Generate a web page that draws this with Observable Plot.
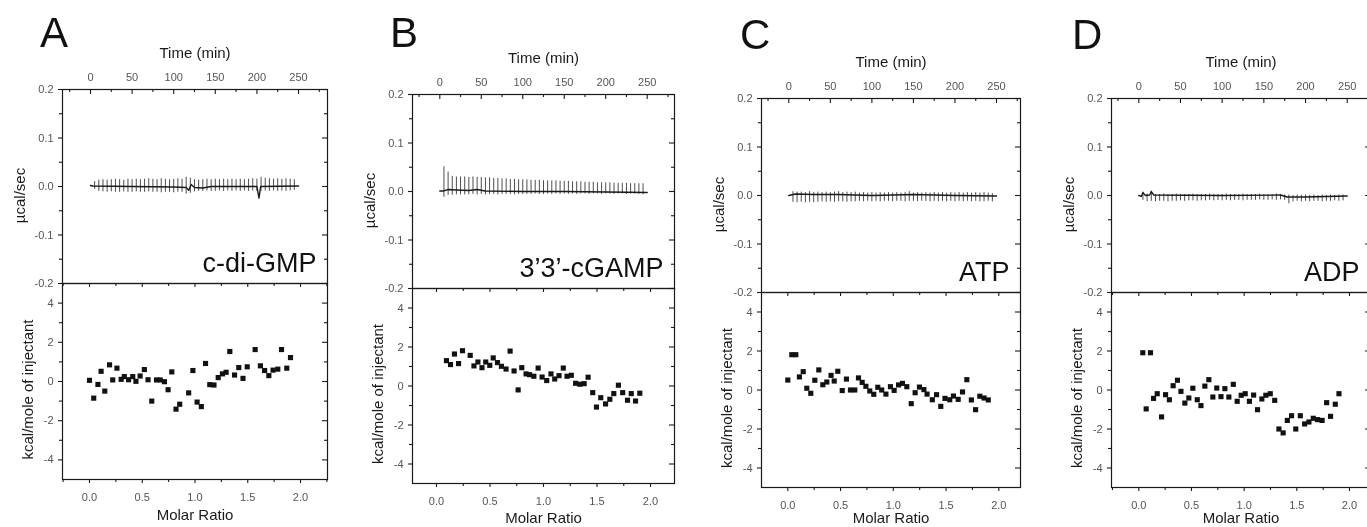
<!DOCTYPE html>
<html>
<head>
<meta charset="utf-8">
<script src="https://cdn.jsdelivr.net/npm/d3@7"></script>
<script src="https://cdn.jsdelivr.net/npm/@observablehq/plot@0.6"></script>
<style>
  html, body { margin: 0; padding: 0; background: #fff; }
  #fig { position: relative; width: 1367px; height: 527px; overflow: hidden; background: #fff;
         font-family: "Liberation Sans", Arial, Helvetica, sans-serif; filter: grayscale(1); }
  #fig svg { position: absolute; background: none; overflow: visible; }
  .letter { position: absolute; font-size: 42px; line-height: 42px; color: #111; }
</style>
</head>
<body>
<div id="fig"></div>
<script>
// ---------------- DATA ----------------
const panelLetters = ["A", "B", "C", "D"];
const compounds = ["c-di-GMP", "3\u20193\u2019-cGAMP", "ATP", "ADP"];

// axis tick values
const timeTicks = [0, 50, 100, 150, 200, 250];
const timeMinor = [-25, 25, 75, 125, 175, 225, 275];
const powerTicks = [-0.2, -0.1, 0, 0.1, 0.2];
const powerMinor = [-0.15, -0.05, 0.05, 0.15];
const molarTicks = [0, 0.5, 1, 1.5, 2];
const molarMinor = [-0.25, 0.25, 0.75, 1.25, 1.75, 2.25];
const enthalpyTicks = [-4, -2, 0, 2, 4];
const enthalpyMinor = [-3, -1, 1, 3];

// injection times (min), shared protocol
const injectionTimes = [5, 10, 15, 20, 25, 30, 35, 40, 45, 50, 55, 60, 65, 70, 75, 80, 85, 90, 95, 100,
  105, 110, 115, 120, 125, 130, 135, 140, 145, 150, 155, 160, 165, 170, 175, 180, 185, 190, 195, 200,
  205, 210, 215, 220, 225, 230, 235, 240, 245];

// raw thermogram: spike tops / bottoms (µcal/sec) and baseline
const spikeHiA = [0.010,0.013,0.014,0.013,0.014,0.015,0.014,0.013,0.015,0.014,
  0.015,0.014,0.015,0.016,0.015,0.014,0.016,0.015,0.014,0.015,
  0.016,0.015,0.019,0.017,0.014,0.013,0.014,0.015,0.014,0.015,
  0.014,0.015,0.014,0.015,0.014,0.015,0.014,0.015,0.016,0.015,
  0.019,0.017,0.016,0.015,0.016,0.015,0.016,0.015,0.014];
const spikeLoA = [-0.006,-0.010,-0.011,-0.012,-0.011,-0.012,-0.012,-0.011,-0.012,-0.012,
  -0.011,-0.012,-0.012,-0.011,-0.012,-0.012,-0.013,-0.012,-0.012,-0.013,
  -0.012,-0.012,-0.016,-0.014,-0.011,-0.010,-0.010,-0.009,-0.010,-0.010,
  -0.009,-0.010,-0.009,-0.010,-0.009,-0.010,-0.009,-0.010,-0.009,-0.010,
  -0.010,-0.009,-0.010,-0.009,-0.010,-0.009,-0.010,-0.009,-0.008];
const baselineA = [[0,0.002],[3,0.001],[50,0],[100,-0.001],[115,-0.002],[118,-0.008],[121,0.004],
  [125,-0.002],[135,-0.003],[145,0],[200,0],[202.5,-0.024],[204.5,0],[250,0.001]];

const spikeHiB = [0.051,0.040,0.031,0.030,0.030,0.030,0.029,0.030,0.029,0.029,
  0.028,0.028,0.027,0.027,0.026,0.026,0.025,0.025,0.024,0.024,
  0.024,0.023,0.023,0.023,0.022,0.022,0.022,0.022,0.021,0.021,
  0.021,0.020,0.020,0.020,0.019,0.019,0.019,0.018,0.018,0.018,
  0.018,0.017,0.017,0.017,0.017,0.016,0.016,0.016,0.016];
const spikeLoB = [-0.012,-0.008,-0.008,-0.007,-0.007,-0.007,-0.007,-0.006,-0.007,-0.006,
  -0.007,-0.006,-0.006,-0.007,-0.006,-0.006,-0.006,-0.007,-0.006,-0.006,
  -0.006,-0.006,-0.005,-0.006,-0.006,-0.005,-0.006,-0.005,-0.006,-0.005,
  -0.006,-0.005,-0.006,-0.005,-0.005,-0.006,-0.005,-0.005,-0.006,-0.005,
  -0.005,-0.006,-0.005,-0.005,-0.006,-0.005,-0.005,-0.006,-0.007];
const baselineB = [[0,0.001],[4,0.001],[10,0.004],[20,0.003],[35,0.002],[45,0.004],[55,0.001],
  [100,0],[150,0],[200,-0.001],[250,-0.002]];

const spikeHiC = [0.008,0.007,0.007,0.006,0.008,0.006,0.007,0.006,0.007,0.006,
  0.007,0.008,0.006,0.007,0.006,0.007,0.005,0.006,0.005,0.006,
  0.005,0.006,0.005,0.006,0.005,0.006,0.005,0.006,0.008,0.005,
  0.006,0.005,0.006,0.005,0.006,0.005,0.006,0.005,0.006,0.005,
  0.006,0.005,0.006,0.005,0.006,0.005,0.006,0.005,0.004];
const spikeLoC = [-0.014,-0.015,-0.014,-0.015,-0.014,-0.015,-0.014,-0.013,-0.014,-0.013,
  -0.014,-0.013,-0.013,-0.014,-0.013,-0.013,-0.012,-0.013,-0.012,-0.013,
  -0.012,-0.013,-0.012,-0.012,-0.013,-0.012,-0.012,-0.013,-0.012,-0.012,
  -0.013,-0.012,-0.012,-0.013,-0.012,-0.013,-0.012,-0.013,-0.012,-0.013,
  -0.012,-0.013,-0.012,-0.013,-0.012,-0.013,-0.013,-0.012,-0.013];
const baselineC = [[0,0],[8,0.003],[30,0.002],[60,0.002],[100,0],[150,0.002],[200,0],[250,-0.001]];

const spikeHiD = [0.007,0.003,0.009,0.002,0.002,0.003,0.002,0.002,0.003,0.002,
  0.002,0.002,0.003,0.002,0.002,0.002,0.003,0.002,0.002,0.002,
  0.003,0.002,0.002,0.002,0.003,0.002,0.002,0.002,0.003,0.002,
  0.002,0.002,0.003,0.002,0.001,0.001,0.000,0.001,0.000,0.001,
  0.000,0.001,0.000,0.001,0.000,0.001,0.000,0.001,0.001];
const spikeLoD = [-0.010,-0.013,-0.012,-0.013,-0.012,-0.012,-0.013,-0.012,-0.012,-0.011,
  -0.012,-0.011,-0.011,-0.012,-0.011,-0.011,-0.010,-0.011,-0.010,-0.011,
  -0.010,-0.011,-0.010,-0.010,-0.011,-0.010,-0.010,-0.010,-0.009,-0.010,
  -0.010,-0.009,-0.010,-0.009,-0.010,-0.017,-0.013,-0.012,-0.013,-0.012,
  -0.013,-0.012,-0.012,-0.013,-0.012,-0.012,-0.011,-0.012,-0.011];
const baselineD = [[0,0],[3,-0.002],[5,0.006],[8,0],[13,0.001],[15,0.008],[18,0.001],[100,0],
  [170,0.001],[178,-0.003],[200,-0.003],[250,-0.001]];

// integrated heats: molar ratio and kcal/mole of injectant
const molarA = [0.00,0.04,0.08,0.11,0.145,0.19,0.22,0.26,0.30,0.33,0.37,0.41,0.44,0.48,0.52,0.555,0.59,0.635,
  0.67,0.71,0.745,0.78,0.82,0.855,0.94,0.98,1.02,1.06,1.10,1.14,1.18,1.22,1.26,1.295,1.33,1.375,1.415,1.455,
  1.495,1.57,1.62,1.66,1.70,1.74,1.785,1.82,1.87,1.905];
const heatA = [0.06,-0.85,-0.15,0.52,-0.49,0.85,0.08,0.68,0.11,0.25,0.09,0.25,0.01,0.28,0.61,0.09,-1.0,0.08,
  0.08,-0.01,-0.42,0.49,-1.41,-1.16,-0.58,0.56,-1.05,-1.28,0.92,-0.16,-0.18,0.2,0.39,0.47,1.53,0.33,0.71,0.16,
  0.75,1.63,0.8,0.56,0.3,0.58,0.63,1.63,0.68,1.22];

const molarB = [0.093,0.131,0.168,0.206,0.243,0.315,0.35,0.387,0.425,0.46,0.498,0.53,0.57,0.607,0.65,0.688,
  0.725,0.763,0.797,0.837,0.87,0.91,0.95,0.987,1.03,1.07,1.105,1.145,1.185,1.22,1.26,1.30,1.34,1.38,1.417,
  1.46,1.495,1.535,1.58,1.62,1.657,1.70,1.74,1.785,1.82,1.86,1.90];
const heatB = [1.30,1.10,1.64,1.15,1.81,1.57,1.03,1.23,0.94,1.23,1.06,1.44,1.2,1.01,0.87,1.79,0.77,-0.2,
  0.94,0.62,0.58,0.5,0.92,0.46,0.28,0.62,0.36,0.53,0.92,0.5,0.55,0.14,0.09,0.12,0.45,-0.34,-1.08,-0.6,
  -0.92,-0.68,-0.39,0.04,-0.34,-0.73,-0.39,-0.77,-0.37];

const molarC = [0.0,0.038,0.076,0.11,0.146,0.18,0.218,0.256,0.294,0.332,0.37,0.41,0.44,0.474,0.516,0.556,
  0.594,0.635,0.67,0.705,0.74,0.777,0.815,0.853,0.89,0.93,0.973,1.008,1.05,1.087,1.128,1.17,1.207,1.248,
  1.29,1.32,1.37,1.41,1.45,1.49,1.535,1.57,1.615,1.656,1.697,1.74,1.78,1.82,1.86,1.90];
const heatC = [0.51,1.81,1.81,0.67,0.94,0.09,-0.17,0.50,1.03,0.27,0.41,0.75,0.46,0.96,-0.03,0.56,0.0,0.0,
  0.62,0.39,0.19,-0.05,-0.22,0.14,0.0,-0.21,0.17,-0.02,0.26,0.34,0.17,-0.7,-0.14,0.15,0.02,-0.21,-0.5,
  -0.24,-0.84,-0.43,-0.5,-0.31,-0.48,-0.1,0.53,-0.51,-1.01,-0.32,-0.41,-0.51];

const molarD = [0.038,0.07,0.111,0.14,0.175,0.216,0.254,0.29,0.326,0.367,0.40,0.437,0.475,0.513,0.555,0.59,
  0.627,0.665,0.703,0.74,0.78,0.817,0.855,0.897,0.934,0.972,1.01,1.05,1.09,1.127,1.168,1.206,1.248,1.29,
  1.33,1.37,1.41,1.45,1.49,1.533,1.574,1.615,1.656,1.697,1.74,1.783,1.82,1.865,1.90];
const heatD = [1.91,-0.97,1.91,-0.43,-0.19,-1.38,-0.24,-0.5,0.22,0.5,-0.07,-0.67,-0.41,0.09,-0.5,-0.8,0.2,
  0.53,-0.36,0.1,-0.34,0.07,-0.36,0.29,-0.58,-0.27,-0.19,-0.58,-0.26,-1.01,-0.46,-0.27,-0.19,-0.53,-2.0,
  -2.2,-1.56,-1.32,-2.0,-1.32,-1.74,-1.64,-1.45,-1.52,-1.56,-0.65,-1.35,-0.73,-0.19];

const series = [
  {hi: spikeHiA, lo: spikeLoA, base: baselineA, molar: molarA, heat: heatA},
  {hi: spikeHiB, lo: spikeLoB, base: baselineB, molar: molarB, heat: heatB},
  {hi: spikeHiC, lo: spikeLoC, base: baselineC, molar: molarC, heat: heatC},
  {hi: spikeHiD, lo: spikeLoD, base: baselineD, molar: molarD, heat: heatD}
];

// ---------------- LAYOUT (pixel geometry of each panel) ----------------
const layout = [
  {L: 62,   R: 327,  T: 89, mid: 283, B: 479, t0: 90,     t250: 298,    m0: 89,     m2: 300,  letterX: 40,   letterBase: 48},
  {L: 412,  R: 674,  T: 94, mid: 288, B: 483, t0: 439.3,  t250: 646.7,  m0: 436,    m2: 650,  letterX: 390,  letterBase: 48},
  {L: 761,  R: 1020, T: 98, mid: 292, B: 487, t0: 788.3,  t250: 996,    m0: 787.3,  m2: 998.3, letterX: 740, letterBase: 50},
  {L: 1111, R: 1370, T: 98, mid: 292, B: 487, t0: 1138.3, t250: 1346.7, m0: 1138.3, m2: 1349, letterX: 1072, letterBase: 50}
];

const FONT = '"Liberation Sans", Arial, Helvetica, sans-serif';
const INK = "#1a1a1a";
const GREY = "#555";
const PAGE_H = 527;
const fig = document.getElementById("fig");
const inDom = (arr, dom) => arr.filter(d => d >= dom[0] - 1e-9 && d <= dom[1] + 1e-9);

layout.forEach((p, i) => {
  const s = series[i];
  const W = p.R - p.L;
  const Ht = p.mid - p.T;
  const Hb = p.B - p.mid;
  const kT = (p.t250 - p.t0) / 250;
  const tD = [(p.L - p.t0) / kT, (p.R - p.t0) / kT];
  const kM = (p.m2 - p.m0) / 2;
  const mD = [(p.L - p.m0) / kM, (p.R - p.m0) / kM];
  const ML = 70, MR = 6;
  const ratioDy = Math.min(36, PAGE_H - 9 - p.B);

  const spikes = injectionTimes.map((t, j) => ({t, hi: s.hi[j], lo: s.lo[j]}));
  const points = s.molar.map((m, j) => ({m, v: s.heat[j]}));

  // ---- top: raw thermogram ----
  const MTt = 50, MBt = 1;
  const top = Plot.plot({
    width: ML + W + MR, height: MTt + Ht + MBt,
    marginLeft: ML, marginRight: MR, marginTop: MTt, marginBottom: MBt,
    x: {domain: tD, label: null},
    y: {domain: [-0.2, 0.2], label: null},
    style: {background: "none", fontFamily: FONT, fontSize: "11px", overflow: "visible"},
    marks: [
      Plot.ruleX(spikes, {x: "t", y1: "lo", y2: "hi", stroke: "#3a3a3a", strokeWidth: 0.9}),
      Plot.line(s.base, {x: d => d[0], y: d => d[1], stroke: INK, strokeWidth: 1.4}),
      Plot.frame({stroke: INK, strokeWidth: 1.2}),
      Plot.tickX(inDom(timeTicks, tD), {x: d => d, stroke: INK, strokeWidth: 1.1, insetBottom: Ht - 5}),
      Plot.tickX(inDom(timeMinor, tD), {x: d => d, stroke: INK, strokeWidth: 1.1, insetBottom: Ht - 3}),
      Plot.tickY(powerTicks, {y: d => d, stroke: INK, strokeWidth: 1.1, insetLeft: -4, insetRight: W}),
      Plot.tickY(powerMinor, {y: d => d, stroke: INK, strokeWidth: 1.1, insetLeft: -3, insetRight: W}),
      Plot.tickY(powerTicks, {y: d => d, stroke: INK, strokeWidth: 1.1, insetLeft: W - 5}),
      Plot.tickY(powerMinor, {y: d => d, stroke: INK, strokeWidth: 1.1, insetLeft: W - 3}),
      Plot.axisX({anchor: "top", ticks: timeTicks, tickSize: 0, tickPadding: 9, tickFormat: d => String(d),
                  fill: GREY, label: null}),
      Plot.axisY({anchor: "left", ticks: powerTicks, tickSize: 0, tickPadding: 9, tickFormat: d => d.toFixed(1),
                  fill: GREY, label: null}),
      Plot.text(["Time (min)"], {text: d => d, frameAnchor: "top", dy: -36, lineAnchor: "middle",
                  fontSize: 15, fill: INK}),
      Plot.text(["\u00b5cal/sec"], {text: d => d, frameAnchor: "left", dx: -42, dy: 9, rotate: -90,
                  lineAnchor: "middle", textAnchor: "middle", fontSize: 15, fill: INK}),
      Plot.text([compounds[i]], {text: d => d, frameAnchor: "bottom-right", dx: -11, dy: -12,
                  textAnchor: "end", lineAnchor: "bottom", fontSize: 27, fill: "#111"})
    ]
  });
  top.style.left = (p.L - ML) + "px";
  top.style.top = (p.T - MTt) + "px";
  fig.appendChild(top);

  // ---- bottom: integrated heats ----
  const MTb = 1, MBb = 45;
  const bot = Plot.plot({
    width: ML + W + MR, height: MTb + Hb + MBb,
    marginLeft: ML, marginRight: MR, marginTop: MTb, marginBottom: MBb,
    x: {domain: mD, label: null},
    y: {domain: [-5, 5], label: null},
    style: {background: "none", fontFamily: FONT, fontSize: "11px", overflow: "visible"},
    marks: [
      Plot.frame({stroke: INK, strokeWidth: 1.2}),
      Plot.tickX(inDom(molarTicks, mD), {x: d => d, stroke: INK, strokeWidth: 1.1, insetBottom: Hb - 4}),
      Plot.tickX(inDom(molarMinor, mD), {x: d => d, stroke: INK, strokeWidth: 1.1, insetBottom: Hb - 3}),
      Plot.tickX(inDom(molarTicks, mD), {x: d => d, stroke: INK, strokeWidth: 1.1, insetTop: Hb, insetBottom: -4}),
      Plot.tickX(inDom(molarMinor, mD), {x: d => d, stroke: INK, strokeWidth: 1.1, insetTop: Hb, insetBottom: -3}),
      Plot.tickY(enthalpyTicks, {y: d => d, stroke: INK, strokeWidth: 1.1, insetLeft: -4, insetRight: W}),
      Plot.tickY(enthalpyMinor, {y: d => d, stroke: INK, strokeWidth: 1.1, insetLeft: -3, insetRight: W}),
      Plot.tickY(enthalpyTicks, {y: d => d, stroke: INK, strokeWidth: 1.1, insetLeft: W - 5}),
      Plot.tickY(enthalpyMinor, {y: d => d, stroke: INK, strokeWidth: 1.1, insetLeft: W - 3}),
      Plot.dot(points, {x: "m", y: "v", symbol: "square", r: 2.9, fill: "#111", stroke: "none"}),
      Plot.axisX({anchor: "bottom", ticks: molarTicks, tickSize: 0, tickPadding: 14, tickFormat: d => d.toFixed(1),
                  fill: GREY, label: null}),
      Plot.axisY({anchor: "left", ticks: enthalpyTicks, tickSize: 0, tickPadding: 9, tickFormat: d => String(d),
                  fill: GREY, label: null}),
      Plot.text(["Molar Ratio"], {text: d => d, frameAnchor: "bottom", dy: ratioDy, lineAnchor: "middle",
                  fontSize: 15, fill: INK}),
      Plot.text(["kcal/mole of injectant"], {text: d => d, frameAnchor: "left", dx: -34, dy: 8, rotate: -90,
                  lineAnchor: "middle", textAnchor: "middle", fontSize: 15, fill: INK})
    ]
  });
  bot.style.left = (p.L - ML) + "px";
  bot.style.top = (p.mid - MTb) + "px";
  fig.appendChild(bot);

  // panel letter
  const lt = document.createElement("div");
  lt.className = "letter";
  lt.textContent = panelLetters[i];
  lt.style.left = p.letterX + "px";
  lt.style.top = (p.letterBase - 35.6) + "px";
  fig.appendChild(lt);
});
</script>
</body>
</html>
